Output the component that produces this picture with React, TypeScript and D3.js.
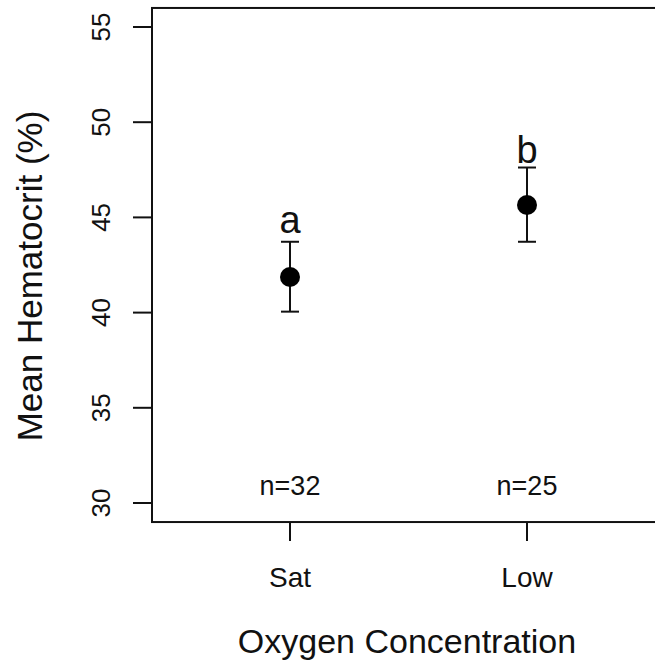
import React from "react";
import * as d3 from "d3";

const categories = ["Sat", "Low"];
const means = [41.87, 45.65];
const upper = [43.72, 47.62];
const lower = [40.05, 43.72];
const letters = ["a", "b"];
const letterY = [44.2, 47.85];
const nLabels = ["n=32", "n=25"];
const nLabelY = [30.9, 30.9];
const yTicks = [30, 35, 40, 45, 50, 55];

const W = 655;
const H = 661;
const FONT = "'Liberation Sans', Arial, Helvetica, sans-serif";

export default function App() {
  const y = d3.scaleLinear().domain([30, 55]).range([503, 27]);
  const x = d3.scaleLinear().domain([1, 2]).range([290, 527]);
  const boxLeft = 152;
  const boxTop = y(56);
  const boxBottom = y(29);
  const boxRight = 700;
  const col = "#111";

  return (
    <div style={{ position: "absolute", left: 0, top: 0 }}>
      <svg width={W} height={H} style={{ display: "block", background: "#fff" }}>
        <rect x={boxLeft} y={boxTop} width={boxRight - boxLeft} height={boxBottom - boxTop} fill="none" stroke={col} strokeWidth={2} />
        {yTicks.map((t) => (
          <g key={t}>
            <line x1={boxLeft - 19} x2={boxLeft} y1={y(t)} y2={y(t)} stroke={col} strokeWidth={2} />
            <text
              transform={`translate(110,${y(t)}) rotate(-90)`}
              textAnchor="middle"
              fontFamily={FONT}
              fontSize={26}
              fill={col}
            >
              {t}
            </text>
          </g>
        ))}
        {categories.map((c, i) => (
          <g key={c}>
            <line x1={x(i + 1)} x2={x(i + 1)} y1={boxBottom} y2={boxBottom + 19} stroke={col} strokeWidth={2} />
            <text x={x(i + 1)} y={587} textAnchor="middle" fontFamily={FONT} fontSize={28} fill={col}>
              {c}
            </text>
            <line x1={x(i + 1)} x2={x(i + 1)} y1={y(upper[i])} y2={y(lower[i])} stroke={col} strokeWidth={2} />
            <line x1={x(i + 1) - 9} x2={x(i + 1) + 9} y1={y(upper[i])} y2={y(upper[i])} stroke={col} strokeWidth={2} />
            <line x1={x(i + 1) - 9} x2={x(i + 1) + 9} y1={y(lower[i])} y2={y(lower[i])} stroke={col} strokeWidth={2} />
            <circle cx={x(i + 1)} cy={y(means[i])} r={10} fill="#000" />
            <text x={x(i + 1)} y={y(letterY[i])} textAnchor="middle" fontFamily={FONT} fontSize={38} fill={col}>
              {letters[i]}
            </text>
            <text x={x(i + 1)} y={y(nLabelY[i])} dy="0.35em" textAnchor="middle" fontFamily={FONT} fontSize={27} fill={col}>
              {nLabels[i]}
            </text>
          </g>
        ))}
        <text x={407} y={653} textAnchor="middle" fontFamily={FONT} fontSize={34} fill={col}>
          Oxygen Concentration
        </text>
        <text
          transform={`translate(42,276) rotate(-90)`}
          textAnchor="middle"
          fontFamily={FONT}
          fontSize={35}
          fill={col}
        >
          Mean Hematocrit (%)
        </text>
      </svg>
    </div>
  );
}
